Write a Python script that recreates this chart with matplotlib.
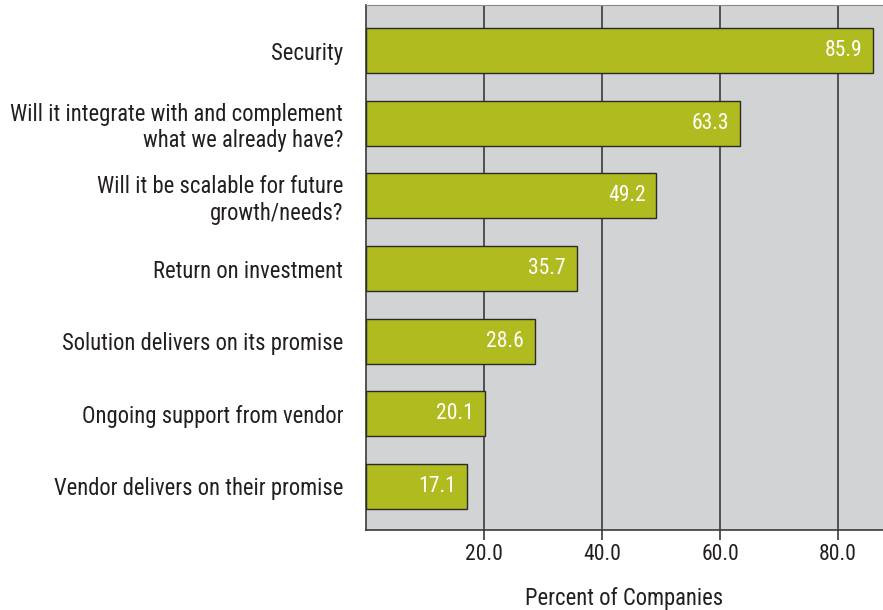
import matplotlib.pyplot as plt
from matplotlib import font_manager

categories = [
    "Security",
    "Will it integrate with and complement\nwhat we already have?",
    "Will it be scalable for future\ngrowth/needs?",
    "Return on investment",
    "Solution delivers on its promise",
    "Ongoing support from vendor",
    "Vendor delivers on their promise",
]
percent = [85.9, 63.3, 49.2, 35.7, 28.6, 20.1, 17.1]
xticks = [20, 40, 60, 80]

# pick a narrow face if one is around, else condensed DejaVu
names = {f.name for f in font_manager.fontManager.ttflist}
family = "DejaVu Sans"
for cand in ("Liberation Sans Narrow", "Roboto Condensed", "Open Sans Condensed"):
    if cand in names:
        family = cand
        break
plt.rcParams["font.family"] = [family, "DejaVu Sans"]
plt.rcParams["font.stretch"] = "condensed"

text_color = "#231f20"
bar_color = "#b0bb1f"
bg_color = "#d2d3d5"
line_color = "#3a3a3a"
fs_label = 16.3
fs_num = 15.6

fig = plt.figure(figsize=(8.83, 6.10), dpi=100)
ax = fig.add_axes([0.4145, 0.1311, 0.5855, 0.8607])
ax.set_facecolor(bg_color)

ypos = list(range(len(categories)))
ax.barh(ypos, percent, height=0.62, color=bar_color, edgecolor="#2a2a2a",
        linewidth=1.0, zorder=3)
for y, v in zip(ypos, percent):
    ax.text(v - 1.8, y, f"{v:.1f}", ha="right", va="center", color="white",
            fontsize=fs_num, zorder=4)

ax.set_xlim(0, 87.6)
ax.set_ylim(6.6, -0.63)
ax.set_yticks(ypos)
ax.set_yticklabels(categories, fontsize=fs_label, color=text_color, linespacing=1.2)
ax.tick_params(axis="y", length=0, pad=16.5)
ax.set_xticks(xticks)
ax.set_xticklabels([f"{t:.1f}" for t in xticks], fontsize=fs_num, color=text_color)
ax.tick_params(axis="x", length=7, width=1.2, color=line_color, pad=3)
ax.grid(axis="x", color=line_color, linewidth=1.2, zorder=1)
ax.set_axisbelow(True)

ax.spines["right"].set_visible(False)
ax.spines["top"].set_color("#888888")
for side in ("left", "bottom"):
    ax.spines[side].set_color(line_color)
    ax.spines[side].set_linewidth(1.2)

ax.set_xlabel("Percent of Companies", fontsize=fs_label, color=text_color, labelpad=16)

fig.savefig("out.png", dpi=100)
